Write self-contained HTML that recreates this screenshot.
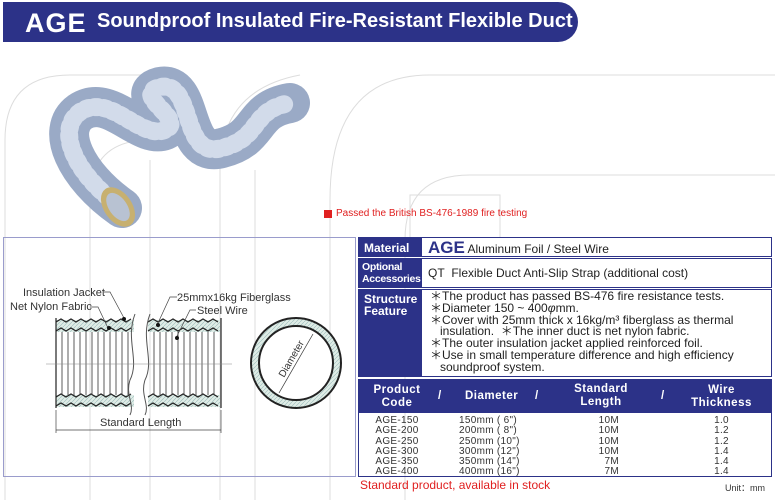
<!DOCTYPE html>
<html><head><meta charset="utf-8"><style>
*{margin:0;padding:0;box-sizing:border-box}
body{width:775px;height:500px;background:#fff;position:relative;overflow:hidden;font-family:"Liberation Sans",sans-serif;}
.hdr{position:absolute;left:3px;top:2px;width:575px;height:40px;background:#2c3288;border-radius:0 22px 22px 0;color:#fff;font-weight:bold;}
.abs{position:absolute}
.lab{position:absolute;background:#2c3288;color:#fff;font-weight:bold;font-size:12px;line-height:12px;padding-left:5px}
.row{position:absolute;border:1px solid #2c3288;background:#fff}
.txt{position:absolute;font-size:12px;color:#222}
</style></head><body>
<svg class="abs" style="left:0;top:0" width="775" height="500">
<g fill="none" stroke="#ddd" stroke-width="1">
<path d="M5 500 V140 Q5 75 70 75 H170"/>
<path d="M90 500 V200 Q90 140 150 140"/>
<path d="M150 500 V160"/>
<path d="M220 500 V170 Q220 90 300 75"/>
<path d="M255 500 V170"/>
<path d="M330 500 V200 Q330 75 430 75 H775"/>
<path d="M405 500 V240 Q405 175 470 175 H775"/>
<path d="M410 240 V195 H500 V240"/>
</g>
<g fill="none" stroke-linecap="round">
<path d="M122 208 C75 175 55 130 80 112 C110 92 140 140 165 130 C188 120 130 95 160 87 C195 80 180 160 222 148 C262 138 250 110 290 103" stroke="#9aaac6" stroke-width="40"/>
<path d="M122 208 C75 175 55 130 80 112 C110 92 140 140 165 130 C188 120 130 95 160 87 C195 80 180 160 222 148 C262 138 250 110 290 103" stroke="#d2dbea" stroke-width="18" stroke-dasharray="3 6"/>
</g>
<ellipse cx="118" cy="207" rx="14" ry="22" fill="#c7b070" transform="rotate(-35 118 207)"/>
<ellipse cx="118" cy="207" rx="9" ry="16" fill="#b8c2d2" transform="rotate(-35 118 207)"/>
<rect x="324" y="210" width="8" height="8" fill="#e02020"/>
</svg>
<div class="hdr"><span class="abs" style="left:22px;top:6px;font-size:27px;letter-spacing:1px">AGE</span><span class="abs" style="left:94px;top:8px;font-size:20px;white-space:nowrap">Soundproof Insulated Fire-Resistant Flexible Duct</span></div>
<div class="txt" style="left:336px;top:208px;font-size:10px;color:#e02020">Passed the British BS-476-1989 fire testing</div>

<div class="abs" style="left:3px;top:237px;width:353px;height:240px;border:1px solid #9a9ccc"></div>
<svg class="abs" style="left:0;top:230px" width="360" height="270">
<defs><pattern id="h" width="4" height="4" patternUnits="userSpaceOnUse"><rect width="4" height="4" fill="#dfece6"/><path d="M0 4L4 0" stroke="#9bb" stroke-width=".6"/></pattern></defs>
<g stroke="#222" stroke-width="1.2">
<rect x="56" y="90" width="78" height="12" fill="url(#h)" stroke="none"/>
<rect x="148" y="90" width="72" height="12" fill="url(#h)" stroke="none"/>
<rect x="56" y="165" width="78" height="12" fill="url(#h)" stroke="none"/>
<rect x="148" y="165" width="72" height="12" fill="url(#h)" stroke="none"/>
<path d="M56 92 l5-3 5 3 5-3 5 3 5-3 5 3 5-3 5 3 5-3 5 3 5-3 5 3 5-3 5 3 5-3" fill="none"/>
<path d="M56 101 l5-3 5 3 5-3 5 3 5-3 5 3 5-3 5 3 5-3 5 3 5-3 5 3 5-3 5 3 5-3" fill="none"/>
<path d="M148 92 l5-3 5 3 5-3 5 3 5-3 5 3 5-3 5 3 5-3 5 3 5-3 5 3 5-3 5 3" fill="none"/>
<path d="M148 101 l5-3 5 3 5-3 5 3 5-3 5 3 5-3 5 3 5-3 5 3 5-3 5 3 5-3 5 3" fill="none"/>
<path d="M56 167 l5-3 5 3 5-3 5 3 5-3 5 3 5-3 5 3 5-3 5 3 5-3 5 3 5-3 5 3 5-3" fill="none"/>
<path d="M56 176 l5-3 5 3 5-3 5 3 5-3 5 3 5-3 5 3 5-3 5 3 5-3 5 3 5-3 5 3 5-3" fill="none"/>
<path d="M148 167 l5-3 5 3 5-3 5 3 5-3 5 3 5-3 5 3 5-3 5 3 5-3 5 3 5-3 5 3" fill="none"/>
<path d="M148 176 l5-3 5 3 5-3 5 3 5-3 5 3 5-3 5 3 5-3 5 3 5-3 5 3 5-3 5 3" fill="none"/>
<path d="M56 88 V178 M221 88 V178"/>
</g>
<g stroke="#333" stroke-width=".8">
<path d="M62 102V165M68 102V165M74 102V165M80 102V165M86 102V165M92 102V165M98 102V165M104 102V165M110 102V165M116 102V165M122 102V165M128 102V165"/>
<path d="M154 102V165M160 102V165M166 102V165M172 102V165M178 102V165M184 102V165M190 102V165M196 102V165M202 102V165M208 102V165M214 102V165"/>
</g>
<path d="M135 84 C125 110 140 130 130 150 C125 165 135 175 130 185" fill="none" stroke="#555"/>
<path d="M150 84 C140 110 155 130 145 150 C140 165 150 175 145 185" fill="none" stroke="#555"/>
<path d="M46 134H232" stroke="#888" stroke-width=".6"/>
<g stroke="#444" stroke-width=".7" fill="none">
<path d="M104 62 H110 L124 88"/><path d="M90 77 H98 L108 98"/>
<path d="M177 67 H170 L158 93"/><path d="M196 80 H190 L176 108"/>
<path d="M56 200 H221"/><path d="M56 180V203M221 180V203"/>
</g>
<circle cx="124" cy="89" r="2" fill="#111"/><circle cx="109" cy="98" r="2" fill="#111"/>
<circle cx="158" cy="95" r="2" fill="#111"/><circle cx="177" cy="108" r="2" fill="#111"/>
<circle cx="296" cy="133" r="45" fill="url(#h)" stroke="#222" stroke-width="2"/>
<circle cx="296" cy="133" r="37" fill="#fff" stroke="#222" stroke-width="2"/>
<path d="M279 163L313 104" stroke="#333" stroke-width=".7"/>
<text x="0" y="0" font-size="10" fill="#333" transform="translate(284 148) rotate(-60)" font-family="Liberation Sans">Diameter</text>
<g font-size="11" fill="#333" font-family="Liberation Sans">
<text x="23" y="66">Insulation Jacket</text>
<text x="10" y="80">Net Nylon Fabric</text>
<text x="177" y="71">25mmx16kg Fiberglass</text>
<text x="197" y="84">Steel Wire</text>
<text x="100" y="196">Standard Length</text>
</g>
</svg>

<div class="row" style="left:358px;top:237px;width:414px;height:20px"></div>
<div class="lab" style="left:359px;top:238px;width:63px;height:18px;padding-top:4px">Material</div>
<div class="txt" style="left:428px;top:238px"><b style="color:#2c3288;font-size:17px">AGE</b> Aluminum Foil / Steel Wire</div>
<div class="row" style="left:358px;top:258px;width:414px;height:30px"></div>
<div class="lab" style="left:359px;top:259px;width:63px;height:28px;padding-top:3px;padding-left:3px;font-size:10.5px;line-height:11.5px;letter-spacing:-.3px">Optional<br>Accessories</div>
<div class="txt" style="left:428px;top:266px">QT&nbsp; Flexible Duct Anti-Slip Strap (additional cost)</div>
<div class="row" style="left:358px;top:289px;width:414px;height:88px"></div>
<div class="lab" style="left:359px;top:290px;width:63px;height:86px;padding-top:3px">Structure<br>Feature</div>
<div class="txt" style="left:430px;top:291px;line-height:11.8px;font-size:12px">＊The product has passed BS-476 fire resistance tests.<br>＊Diameter 150 ~ 400<i>φ</i>mm.<br>＊Cover with 25mm thick x 16kg/m³ fiberglass as thermal<br>&nbsp;&nbsp;&nbsp;insulation.&nbsp;&nbsp;＊The inner duct is net nylon fabric.<br>＊The outer insulation jacket applied reinforced foil.<br>＊Use in small temperature difference and high efficiency<br>&nbsp;&nbsp;&nbsp;soundproof system.</div>

<div class="abs" style="left:358px;top:379px;width:414px;height:98px;border:1px solid #2c3288"></div>
<div class="abs" style="left:359px;top:380px;width:412px;height:33px;background:#2c3288;color:#fff;font-weight:bold;font-size:11.5px;line-height:12.5px;letter-spacing:.5px">
<div class="abs" style="left:2px;top:4px;width:72px;text-align:center">Product<br>Code</div>
<div class="abs" style="left:79px;top:10px">/</div>
<div class="abs" style="left:106px;top:10px">Diameter</div>
<div class="abs" style="left:176px;top:10px">/</div>
<div class="abs" style="left:205px;top:3px;width:74px;text-align:center">Standard<br>Length</div>
<div class="abs" style="left:302px;top:10px">/</div>
<div class="abs" style="left:325px;top:4px;width:75px;text-align:center">Wire<br>Thickness</div>
</div>
<div class="abs" style="left:359px;top:416px;font-size:10px;line-height:10.3px;color:#333;letter-spacing:.3px">
<div class="abs" style="left:0;width:76px;text-align:center">AGE-150<br>AGE-200<br>AGE-250<br>AGE-300<br>AGE-350<br>AGE-400</div>
<div class="abs" style="left:100px;width:90px;white-space:nowrap">150mm ( 6")<br>200mm ( 8")<br>250mm (10")<br>300mm (12")<br>350mm (14")<br>400mm (16")</div>
<div class="abs" style="left:205px;width:55px;text-align:right">10M<br>10M<br>10M<br>10M<br>7M<br>7M</div>
<div class="abs" style="left:325px;width:75px;text-align:center">1.0<br>1.2<br>1.2<br>1.4<br>1.4<br>1.4</div>
</div>
<div class="txt" style="left:360px;top:478px;color:#e02020;font-size:12px">Standard product, available in stock</div>
<div class="txt" style="left:725px;top:481px;font-size:9px;color:#333">Unit：mm</div>
</body></html>
